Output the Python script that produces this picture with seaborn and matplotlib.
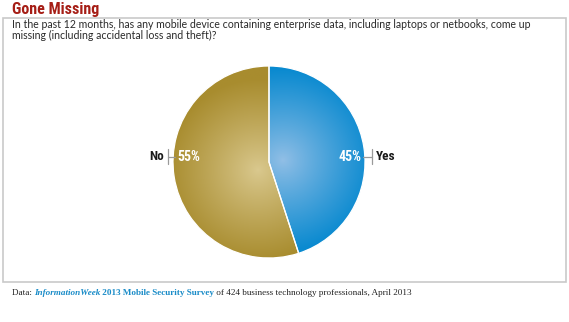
import numpy as np
import matplotlib
matplotlib.use("Agg")
import matplotlib.pyplot as plt
import seaborn as sns
from matplotlib import font_manager
from matplotlib.font_manager import FontProperties
from matplotlib.colors import to_rgb
from matplotlib.patches import Rectangle

# ---------------- data ----------------
categories = ["Yes", "No"]
values = [45, 55]
pct_labels = ["45%", "55%"]
title_text = "Gone Missing"
question_lines = [
    "In the past 12 months, has any mobile device containing enterprise data, including laptops or netbooks, come up",
    "missing (including accidental loss and theft)?",
]
footer_parts = [
    ("Data: ", "normal", "normal", "#222222"),
    ("InformationWeek", "bold", "italic", "#1a8cc8"),
    (" 2013 Mobile Security Survey", "bold", "normal", "#1a8cc8"),
    (" of 424 business technology professionals, April 2013", "normal", "normal", "#222222"),
]

# ---------------- style ----------------
sns.set_theme(style="white")
plt.rcParams["font.family"] = ["Open Sans", "DejaVu Sans"]
names = {f.name for f in font_manager.fontManager.ttflist}
serif = "Liberation Serif" if "Liberation Serif" in names else "DejaVu Serif"
qfam = "Lato" if "Lato" in names else "Open Sans"


def find_font(width_keys, weight_keys, exclude=()):
    files = sorted({f.fname for f in font_manager.fontManager.ttflist})
    for fam in ["NotoSans", "Noto Sans", "OpenSans", "Roboto", "LiberationSansNarrow", "DejaVuSans"]:
        for wk in width_keys:
            for fn in files:
                base = fn.split("/")[-1]
                if fam.replace(" ", "") in base.replace(" ", "") and wk in base \
                        and any(k in base for k in weight_keys) \
                        and not any(e in base for e in exclude) and "Mono" not in base:
                    return FontProperties(fname=fn)
    return None


fp_title = find_font(["ExtraCondensedBold", "CondensedBold", "Narrow-Bold", "Condensed-Bold"], ["Bold"],
                     exclude=("Italic", "Semi")) or \
    FontProperties(family="DejaVu Sans", weight="bold", stretch="condensed")
fp_lab = find_font(["CondensedSemiBold", "CondensedMedium", "Condensed-Bold", "CondensedBold", "Narrow-Bold"],
                   ["SemiBold", "Medium", "Bold"], exclude=("Italic", "Extra")) or \
    FontProperties(family="DejaVu Sans", weight="bold", stretch="condensed")

W, H = 569, 322
fig = plt.figure(figsize=(W / 100, H / 100), dpi=100)
ax = fig.add_axes([0, 0, 1, 1])


def Y(y):  # pixel-from-top -> axes coordinate (y up)
    return H - y


base_colors = ["#0a8ad0", "#a88c2e"]
light_colors = ["#92bfe6", "#dac98f"]
grad_centers = [(283, 160), (258, 170)]

cx, cy, R = 269, Y(162), 96
wedges, _ = ax.pie(values, colors=base_colors, startangle=90, counterclock=False,
                   center=(cx, cy), radius=R, frame=True,
                   wedgeprops=dict(edgecolor="white", linewidth=0.9))

n = 300
xs = np.linspace(cx - R, cx + R, n)
ys = np.linspace(cy - R, cy + R, n)
XX, YY = np.meshgrid(xs, ys)
for w, bc, lc, (gx, gy) in zip(wedges, base_colors, light_colors, grad_centers):
    r = np.hypot(XX - gx, YY - Y(gy))
    t = np.clip(r / (0.95 * R), 0, 1) ** 0.9
    b = np.array(to_rgb(bc)); l = np.array(to_rgb(lc))
    img = l[None, None, :] + (b - l)[None, None, :] * t[..., None]
    im = ax.imshow(img, extent=(cx - R, cx + R, cy - R, cy + R), origin="lower",
                   zorder=w.get_zorder() + 0.1, interpolation="bilinear")
    im.set_clip_path(w)
for w in wedges:
    w.set_zorder(3); w.set_facecolor("none")

ax.set_xlim(0, W)
ax.set_ylim(0, H)
ax.set_aspect("auto")
ax.axis("off")

ax.add_patch(Rectangle((3.5, Y(282)), 563, 264, fill=False, edgecolor="#c9c9c9", lw=1.2, zorder=1))

renderer = fig.canvas.get_renderer()


def fit(txt, width):
    bb = txt.get_window_extent(renderer)
    txt.set_fontsize(txt.get_fontsize() * width / bb.width)


# title
t = ax.text(12, Y(14), title_text, fontproperties=fp_title, fontsize=14, color="#a61e16",
            va="baseline", ha="left")
fit(t, 88)

# question
q1 = ax.text(12, Y(28), question_lines[0], family=qfam, fontsize=8, color="#2a2a2a",
             va="baseline", ha="left")
fit(q1, 520)
ax.text(12, Y(38.5), question_lines[1], family=qfam, fontsize=q1.get_fontsize(),
        color="#2a2a2a", va="baseline", ha="left")

# footer
texts = []
for s, wt, st, c in footer_parts:
    texts.append(ax.text(0, Y(295), s, fontsize=7, fontweight=wt, fontstyle=st, color=c,
                         family=serif, va="baseline", ha="left"))
total = sum(tx.get_window_extent(renderer).width for tx in texts)
scale = 403 / total
x = 12
for tx in texts:
    tx.set_fontsize(7 * scale)
    tx.set_x(x)
    x += tx.get_window_extent(renderer).width

# slice labels and leaders
lab_y = Y(156.5)
lc = "#9a9a9a"
ax.text(362, lab_y, pct_labels[0], color="white", fontproperties=fp_lab, fontsize=10,
        ha="right", va="center", zorder=5)
ax.plot([363, 372], [lab_y, lab_y], color=lc, lw=0.9, zorder=5)
ax.plot([372, 372], [Y(149), Y(164)], color=lc, lw=0.9, zorder=5)
ax.text(376, lab_y, categories[0], color="#1a1a1a", fontproperties=fp_lab, fontsize=9.5,
        ha="left", va="center", zorder=5)

ax.text(177, lab_y, pct_labels[1], color="white", fontproperties=fp_lab, fontsize=10,
        ha="left", va="center", zorder=5)
ax.plot([168, 175], [lab_y, lab_y], color=lc, lw=0.9, zorder=5)
ax.plot([168, 168], [Y(149), Y(164)], color=lc, lw=0.9, zorder=5)
ax.text(164, lab_y, categories[1], color="#1a1a1a", fontproperties=fp_lab, fontsize=9.5,
        ha="right", va="center", zorder=5)

fig.savefig("out.png", dpi=100)
